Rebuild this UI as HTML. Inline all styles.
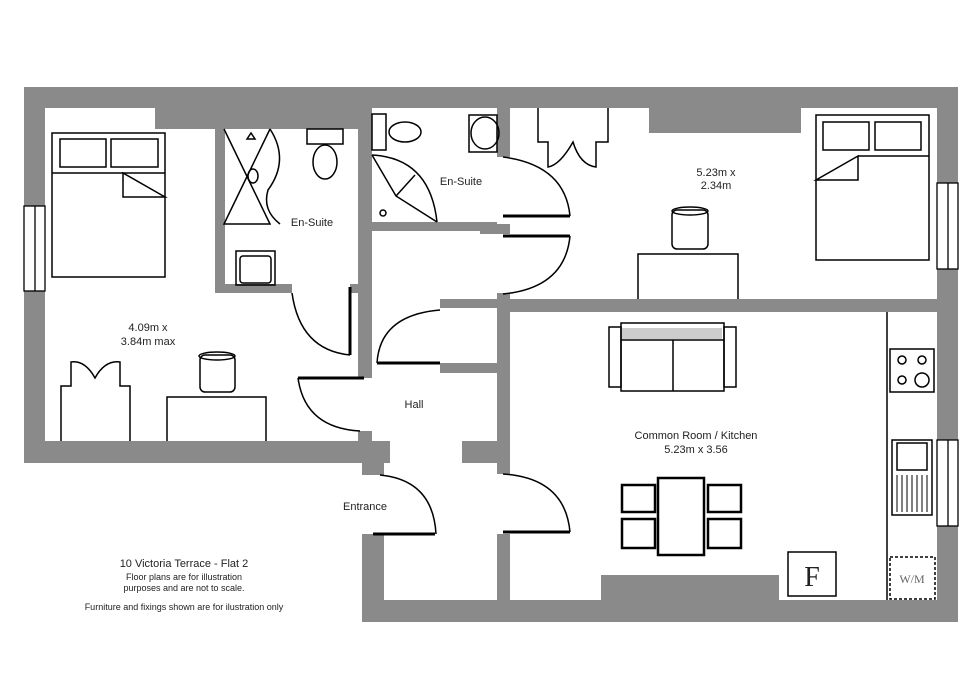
<!DOCTYPE html>
<html><head><style>
html,body{margin:0;padding:0;background:#fff;width:980px;height:692px;overflow:hidden}
svg text{font-family:"Liberation Sans",sans-serif;fill:#222}
</style></head><body>
<svg width="980" height="692" viewBox="0 0 980 692" xmlns="http://www.w3.org/2000/svg">
<g fill="#8a8a8a">
<rect x="24" y="87" width="934" height="21"/>
<rect x="24" y="87" width="21" height="376"/>
<rect x="155" y="100" width="217" height="29"/>
<rect x="649" y="100" width="152" height="33"/>
<rect x="937" y="87" width="21" height="535"/>
<rect x="24" y="441" width="366" height="22"/>
<rect x="462" y="441" width="48" height="22"/>
<rect x="362" y="441" width="22" height="34"/>
<rect x="362" y="534" width="22" height="88"/>
<rect x="362" y="600" width="596" height="22"/>
<rect x="601" y="575" width="178" height="30"/>
<rect x="215" y="129" width="10" height="164"/>
<rect x="215" y="284" width="77" height="9"/>
<rect x="350" y="284" width="10" height="9"/>
<rect x="358" y="108" width="14" height="270"/>
<rect x="358" y="431" width="14" height="14"/>
<rect x="372" y="222" width="125" height="9"/>
<rect x="497" y="100" width="13" height="57"/>
<rect x="480" y="224" width="30" height="10"/>
<rect x="497" y="293" width="13" height="181"/>
<rect x="497" y="534" width="13" height="80"/>
<rect x="497" y="299" width="461" height="13"/>
<rect x="440" y="299" width="60" height="9"/>
<rect x="440" y="363" width="60" height="10"/>
</g>
<g fill="#fff" stroke="#000" stroke-width="1.3">
<rect x="24" y="206" width="21" height="85"/><line x1="35" y1="206" x2="35" y2="291"/>
<rect x="937" y="183" width="21" height="86"/><line x1="948" y1="183" x2="948" y2="269"/>
<rect x="937" y="440" width="21" height="86"/><line x1="948" y1="440" x2="948" y2="526"/>
</g>
<g fill="none" stroke="#000" stroke-width="1.5">
<!-- left bed -->
<rect x="52" y="133" width="113" height="144"/>
<rect x="60" y="139" width="46" height="28"/><rect x="111" y="139" width="47" height="28"/>
<line x1="52" y1="173" x2="165" y2="173"/>
<path d="M123 173V197H165Z"/>
<!-- wardrobe left -->
<path d="M61 441V386H71V362Q85 360 95 378Q105 360 120 362V386H130V441"/>
<!-- desk left -->
<path d="M167 441V397H266V441"/>
<rect x="200" y="355" width="35" height="37" rx="5"/><ellipse cx="217" cy="356" rx="18" ry="4"/>
<!-- shower 1 -->
<path d="M224 129L270 224H224L270 129"/><ellipse cx="253" cy="176" rx="5" ry="7"/>
<path d="M270 129Q290 160 268 190Q262 210 280 224"/><path d="M247 139L251 133L255 139Z"/>
<!-- toilet 1 -->
<rect x="307" y="129" width="36" height="15"/><ellipse cx="325" cy="162" rx="12" ry="17"/>
<!-- basin 1 -->
<rect x="236" y="251" width="39" height="34"/><rect x="240" y="256" width="31" height="27" rx="3"/>
<!-- ensuite2 -->
<rect x="372" y="114" width="14" height="36"/><ellipse cx="405" cy="132" rx="16" ry="10"/>
<rect x="469" y="115" width="28" height="37"/><ellipse cx="485" cy="133" rx="14" ry="16"/>
<path d="M372 155Q430 158 437 222"/><path d="M372 155L396 196L437 222M396 196L415 175"/>
<circle cx="383" cy="213" r="3"/>
<!-- doors arcs -->
<path d="M292 293Q300 350 350 355"/>
<path d="M298 378Q305 428 360 431"/>
<path d="M380 475Q433 480 436 534"/>
<path d="M377 363Q380 315 440 310"/>
<path d="M503 157Q565 165 570 216"/>
<path d="M503 294Q565 288 570 236"/>
<path d="M503 474Q565 478 570 532"/>
<!-- bedroom2 -->
<path d="M538 108V142H548V167Q560 165 573 142Q580 165 596 167V142H608V108"/>
<path d="M638 299V254H738V299"/>
<rect x="672" y="210" width="36" height="39" rx="5"/><ellipse cx="690" cy="211" rx="18" ry="4"/>
<rect x="816" y="115" width="113" height="145"/>
<rect x="823" y="122" width="46" height="28"/><rect x="875" y="122" width="46" height="28"/>
<line x1="858" y1="156" x2="929" y2="156"/>
<path d="M858 156V180H816Z"/>
<!-- sofa -->
<rect x="609" y="327" width="12" height="60"/><rect x="724" y="327" width="12" height="60"/>
<rect x="621" y="323" width="103" height="68"/><line x1="621" y1="340" x2="724" y2="340"/>
<line x1="673" y1="340" x2="673" y2="391"/>
<!-- dining -->
<rect x="658" y="478" width="46" height="77" stroke-width="2.5"/>
<rect x="622" y="485" width="33" height="27" stroke-width="2.5"/><rect x="622" y="519" width="33" height="29" stroke-width="2.5"/>
<rect x="708" y="485" width="33" height="27" stroke-width="2.5"/><rect x="708" y="519" width="33" height="29" stroke-width="2.5"/>
<!-- kitchen -->
<line x1="887" y1="312" x2="887" y2="600"/>
<rect x="890" y="349" width="44" height="43"/>
<circle cx="902" cy="360" r="4"/><circle cx="922" cy="360" r="4"/><circle cx="902" cy="380" r="4"/><circle cx="922" cy="380" r="7"/>
<rect x="892" y="440" width="40" height="75"/><rect x="897" y="443" width="30" height="27"/>
<path d="M897 475V512M902 475V512M907 475V512M912 475V512M917 475V512M922 475V512M927 475V512" stroke-width="1"/>
<rect x="788" y="552" width="48" height="44"/>
<rect x="890" y="557" width="45" height="42" stroke-dasharray="3 2"/>
</g>
<g stroke="#000" stroke-width="3">
<line x1="350" y1="287" x2="350" y2="355"/>
<line x1="298" y1="378" x2="364" y2="378"/>
<line x1="373" y1="534" x2="435" y2="534"/>
<line x1="377" y1="363" x2="440" y2="363"/>
<line x1="503" y1="216" x2="570" y2="216"/>
<line x1="503" y1="236" x2="570" y2="236"/>
<line x1="503" y1="532" x2="570" y2="532"/>
</g>
<rect x="622" y="328" width="100" height="11" fill="#ccc"/>
<g font-size="11" text-anchor="middle">
<text x="148" y="331">4.09m x</text><text x="148" y="345">3.84m max</text>
<text x="312" y="226">En-Suite</text><text x="461" y="185">En-Suite</text>
<text x="414" y="408">Hall</text><text x="365" y="510">Entrance</text>
<text x="716" y="176">5.23m x</text><text x="716" y="189">2.34m</text>
<text x="696" y="439">Common Room / Kitchen</text><text x="696" y="453">5.23m x 3.56</text>
<text x="184" y="567">10 Victoria Terrace - Flat 2</text>
<text x="184" y="580" font-size="9">Floor plans are for illustration</text>
<text x="184" y="591" font-size="9">purposes and are not to scale.</text>
<text x="184" y="610" font-size="9">Furniture and fixings shown are for ilustration only</text>
<text x="812" y="586" font-size="28" style="font-family:'Liberation Serif',serif">F</text>
<text x="912" y="583" font-size="12" style="font-family:'Liberation Serif',serif;fill:#666">W/M</text>
</g>
</svg>
</body></html>
